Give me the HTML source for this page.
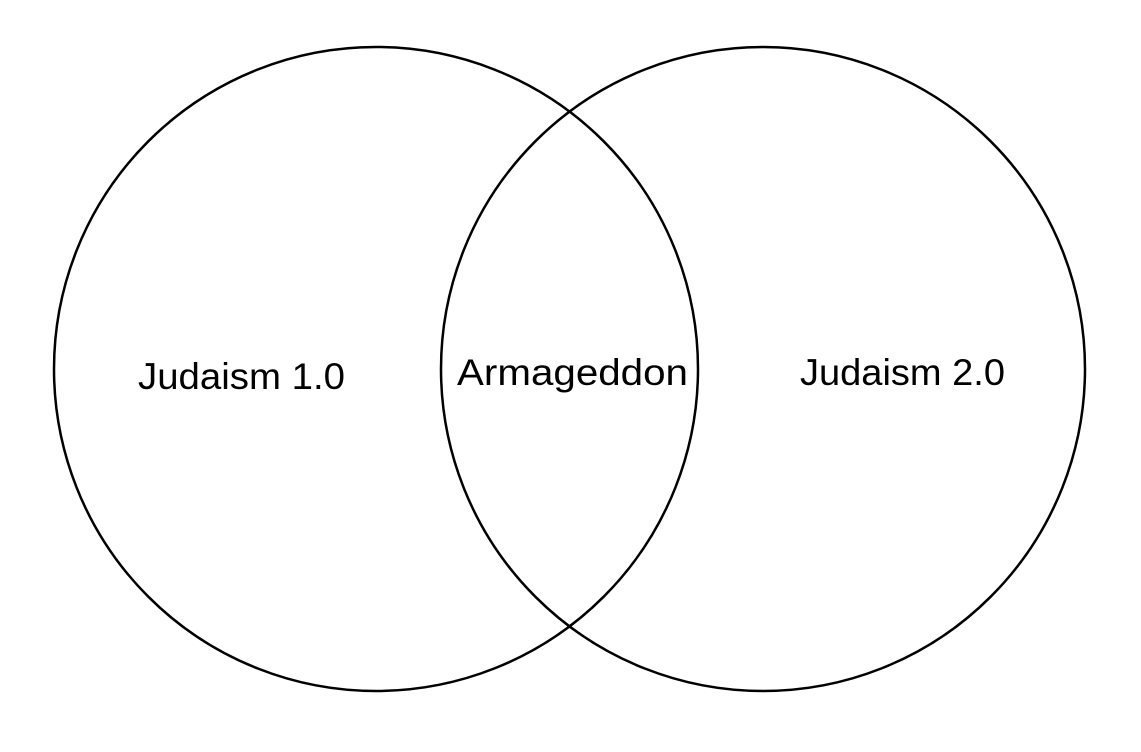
<!DOCTYPE html>
<html><head><style>html,body{margin:0;padding:0;background:#fff;}</style></head>
<body>
<svg width="1141" height="747" xmlns="http://www.w3.org/2000/svg">
<rect width="1141" height="747" fill="#fff"/>
<circle cx="376" cy="369" r="322" fill="none" stroke="#000" stroke-width="2.5"/>
<circle cx="763" cy="369" r="322" fill="none" stroke="#000" stroke-width="2.5"/>
<g font-family="Liberation Sans, DejaVu Sans, sans-serif" font-size="37" fill="#000">
<text x="138" y="389" textLength="207" lengthAdjust="spacingAndGlyphs">Judaism 1.0</text>
<text x="457" y="385" textLength="231" lengthAdjust="spacingAndGlyphs">Armageddon</text>
<text x="800" y="385" textLength="205" lengthAdjust="spacingAndGlyphs">Judaism 2.0</text>
</g>
</svg>
</body></html>
